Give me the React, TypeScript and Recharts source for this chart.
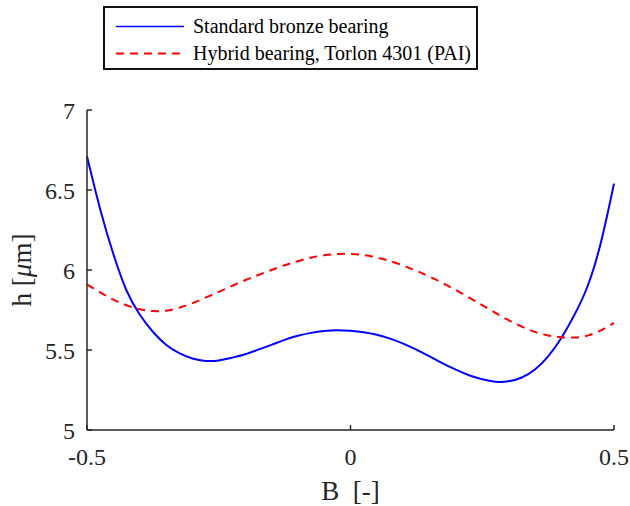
import { LineChart, Line, XAxis, YAxis, Legend } from "recharts"

// B positions (sampled along the curves)
const bValues = [
  -0.5, -0.475, -0.45, -0.425, -0.4, -0.375, -0.35, -0.325, -0.3, -0.275,
  -0.25, -0.225, -0.2, -0.175, -0.15, -0.125, -0.1, -0.075, -0.05, -0.025,
  0, 0.025, 0.05, 0.075, 0.1, 0.125, 0.15, 0.175, 0.2, 0.225,
  0.25, 0.275, 0.3, 0.325, 0.35, 0.375, 0.4, 0.425, 0.45, 0.475, 0.5,
]

// film thickness h [um], standard bronze bearing
const bronzeH = [
  6.71, 6.38, 6.1, 5.872, 5.722, 5.614, 5.533, 5.48, 5.447, 5.432,
  5.435, 5.452, 5.473, 5.502, 5.532, 5.563, 5.589, 5.607, 5.619, 5.624,
  5.62, 5.611, 5.595, 5.571, 5.54, 5.502, 5.46, 5.417, 5.377, 5.342,
  5.317, 5.302, 5.304, 5.328, 5.378, 5.46, 5.575, 5.72, 5.9, 6.17, 6.54,
]

// film thickness h [um], hybrid bearing Torlon 4301
const hybridH = [
  5.91, 5.86, 5.815, 5.78, 5.755, 5.743, 5.746, 5.764, 5.793, 5.827,
  5.863, 5.9, 5.936, 5.969, 6.0, 6.03, 6.055, 6.077, 6.092, 6.1,
  6.1, 6.093, 6.078, 6.056, 6.028, 5.995, 5.958, 5.918, 5.874, 5.828,
  5.78, 5.732, 5.686, 5.646, 5.613, 5.591, 5.58, 5.578, 5.59, 5.622, 5.67,
]

const xTicks = [-0.5, 0, 0.5]
const yTicks = [5, 5.5, 6, 6.5, 7]
const seriesOrder = ["bronze", "hybrid"]

const data = bValues.map((b, i) => ({ b, bronze: bronzeH[i], hybrid: hybridH[i] }))

const FONT = '"Liberation Serif", "Times New Roman", serif'
const AXIS = "#262626"
const X_MARGIN = 18
const Y_MARGIN = 12
const TICK_LEN = 5

function XTick(props: any) {
  const { x, y, payload } = props
  const y0 = y - X_MARGIN
  return (
    <g>
      <line x1={x} x2={x} y1={y0} y2={y0 - TICK_LEN} stroke={AXIS} strokeWidth={1.5} />
      <text x={x} y={y} dy="0.71em" textAnchor="middle" fill={AXIS} style={{ fontFamily: FONT, fontSize: 24 }}>
        {String(payload.value)}
      </text>
    </g>
  )
}

function YTick(props: any) {
  const { x, y, payload } = props
  const x0 = x + Y_MARGIN
  return (
    <g>
      <line x1={x0} x2={x0 + TICK_LEN} y1={y} y2={y} stroke={AXIS} strokeWidth={1.5} />
      <text x={x} y={y} dy="0.355em" textAnchor="end" fill={AXIS} style={{ fontFamily: FONT, fontSize: 24 }}>
        {String(payload.value)}
      </text>
    </g>
  )
}

function XLabel(props: any) {
  const { viewBox } = props
  return (
    <text x={viewBox.x + viewBox.width / 2} y={viewBox.y + 70} textAnchor="middle" fill={AXIS} style={{ fontFamily: FONT, fontSize: 27, whiteSpace: "pre" }}>
      {"B  [-]"}
    </text>
  )
}

function YLabel(props: any) {
  const { viewBox } = props
  const cx = viewBox.x + 22
  const cy = viewBox.y + viewBox.height / 2
  return (
    <text x={cx} y={cy} transform={`rotate(-90 ${cx} ${cy})`} textAnchor="middle" dy="0.35em" fill={AXIS} style={{ fontFamily: FONT, fontSize: 27 }}>
      h [<tspan fontStyle="italic">μ</tspan>m]
    </text>
  )
}

function LegendBox(props: any) {
  const items = [...(props.payload || [])].sort(
    (a: any, b: any) => seriesOrder.indexOf(a.dataKey) - seriesOrder.indexOf(b.dataKey)
  )
  return (
    <div
      style={{
        width: 375,
        height: 64,
        boxSizing: "border-box",
        border: "2px solid #111",
        background: "#fff",
        fontFamily: FONT,
        fontSize: 20,
        color: "#000",
        paddingTop: 5,
      }}
    >
      {items.map((entry: any) => (
        <div key={entry.value} style={{ display: "flex", alignItems: "center", height: 27 }}>
          <svg width={88} height={27} style={{ flex: "none" }}>
            <line
              x1={11}
              x2={79}
              y1={13.5}
              y2={13.5}
              stroke={entry.color}
              strokeWidth={entry.payload?.strokeDasharray ? 2 : 1.3}
              strokeDasharray={entry.payload?.strokeDasharray}
            />
          </svg>
          <span style={{ whiteSpace: "nowrap", lineHeight: "27px" }}>{entry.value}</span>
        </div>
      ))}
    </div>
  )
}

export default function App() {
  return (
    <div style={{ position: "absolute", left: 0, top: 0, background: "#fff" }}>
      <LineChart width={630} height={506} data={data} margin={{ top: 110, right: 16, bottom: 0, left: 0 }}>
        <XAxis
          dataKey="b"
          type="number"
          domain={[-0.5, 0.5]}
          ticks={xTicks}
          height={76}
          tickSize={0}
          tickMargin={X_MARGIN}
          tickLine={false}
          axisLine={{ stroke: AXIS, strokeWidth: 1.5 }}
          tick={<XTick />}
          label={<XLabel />}
          interval={0}
        />
        <YAxis
          type="number"
          domain={[5, 7]}
          ticks={yTicks}
          width={87}
          tickSize={0}
          tickMargin={Y_MARGIN}
          tickLine={false}
          axisLine={{ stroke: AXIS, strokeWidth: 1.5 }}
          tick={<YTick />}
          label={<YLabel />}
          interval={0}
        />
        <Legend
          layout="vertical"
          verticalAlign="middle"
          align="center"
          content={<LegendBox />}
          wrapperStyle={{ position: "absolute", left: 103, top: 6, width: 375, height: 64 }}
        />
        <Line
          type="natural"
          dataKey="bronze"
          name="Standard bronze bearing"
          stroke="#0000ff"
          strokeWidth={2}
          dot={false}
          isAnimationActive={false}
        />
        <Line
          type="natural"
          dataKey="hybrid"
          name="Hybrid bearing, Torlon 4301 (PAI)"
          stroke="#ff0000"
          strokeWidth={2}
          strokeDasharray="8 6"
          dot={false}
          isAnimationActive={false}
        />
      </LineChart>
    </div>
  )
}
